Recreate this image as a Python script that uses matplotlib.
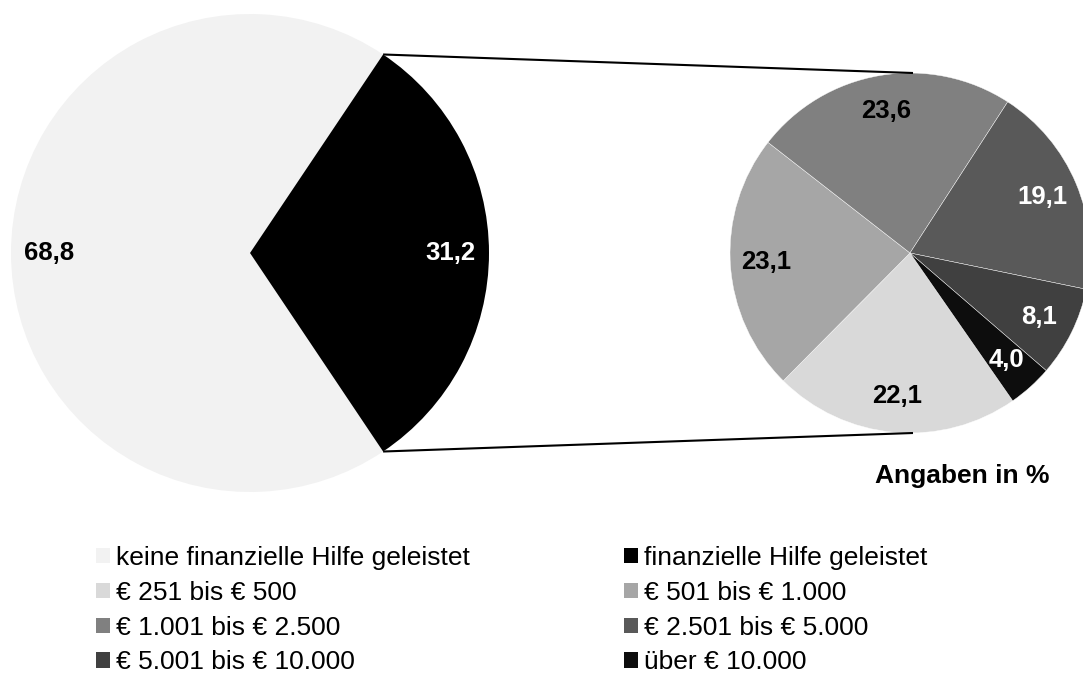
import matplotlib
matplotlib.use("Agg")
import numpy as np
import matplotlib.pyplot as plt
from matplotlib.patches import Patch

plt.rcParams['font.family'] = ['Liberation Sans', 'DejaVu Sans']

# main pie: financial help yes / no
main_labels = ["keine finanzielle Hilfe geleistet", "finanzielle Hilfe geleistet"]
main_values = [68.8, 31.2]
main_colors = ["#f2f2f2", "#000000"]
main_text_colors = ["black", "white"]

# breakdown of the amounts
sub_labels = ["€ 251 bis € 500", "€ 501 bis € 1.000", "€ 1.001 bis € 2.500",
              "€ 2.501 bis € 5.000", "€ 5.001 bis € 10.000", "über € 10.000"]
sub_values = [22.1, 23.1, 23.6, 19.1, 8.1, 4.0]
sub_colors = ["#d9d9d9", "#a6a6a6", "#808080", "#595959", "#404040", "#0d0d0d"]
sub_text_colors = ["black", "black", "black", "white", "white", "white"]

W, H = 1083, 673
fig = plt.figure(figsize=(W / 100, H / 100), dpi=100)
ax = fig.add_axes([0, 0, 1, 1])

def fmt(v):
    return f"{v:.1f}".replace(".", ",")

# left pie, black slice centred on the right side
c_main, r_main = (250, H - 253), 239
start_main = main_values[1] / 100 * 180
w_main, t_main = ax.pie(main_values, colors=main_colors, center=c_main, radius=r_main,
                        startangle=start_main, labels=[fmt(v) for v in main_values],
                        labeldistance=0.84, frame=True,
                        textprops=dict(fontsize=18.5, fontweight="bold"))
for t, col in zip(t_main, main_text_colors):
    t.set_color(col)
    t.set_ha("center")
    t.set_va("center")

# right pie
c_sub, r_sub = (910, H - 253), 180
w_sub, t_sub = ax.pie(sub_values, colors=sub_colors, center=c_sub, radius=r_sub,
                      startangle=-55.2, counterclock=False,
                      labels=[fmt(v) for v in sub_values], labeldistance=0.8,
                      wedgeprops=dict(edgecolor="white", linewidth=0.3), frame=True,
                      textprops=dict(fontsize=18.5, fontweight="bold"))
for t, col in zip(t_sub, sub_text_colors):
    t.set_color(col)
    t.set_ha("center")
    t.set_va("center")

# connector lines from the black slice to the top / bottom of the right pie
black = w_main[1]
for ang, sign in [(black.theta2, 1), (black.theta1, -1)]:
    x0 = c_main[0] + r_main * np.cos(np.radians(ang))
    y0 = c_main[1] + r_main * np.sin(np.radians(ang))
    ax.plot([x0, c_sub[0] + 3], [y0, c_sub[1] + sign * r_sub], color="black", lw=1.5,
            solid_capstyle="butt")

ax.text(962, H - 476, "Angaben in %", fontsize=19, fontweight="bold", ha="center", va="center")

ax.set_xlim(0, W)
ax.set_ylim(0, H)
ax.axis("off")

# legend: matplotlib fills columns first
order = [0, 2, 4, 6, 1, 3, 5, 7]
all_labels = main_labels + sub_labels
all_colors = main_colors + sub_colors
handles = [Patch(facecolor=all_colors[i], edgecolor="none", label=all_labels[i]) for i in order]
fig.legend(handles=handles, ncol=2, loc="upper left", bbox_to_anchor=(96 / W, 1 - 546 / H),
           frameon=False, fontsize=19, borderpad=0, borderaxespad=0,
           handlelength=0.53, handleheight=0.53, handletextpad=0.23,
           columnspacing=5.85, labelspacing=0.41)

fig.savefig("out.png", dpi=100)
